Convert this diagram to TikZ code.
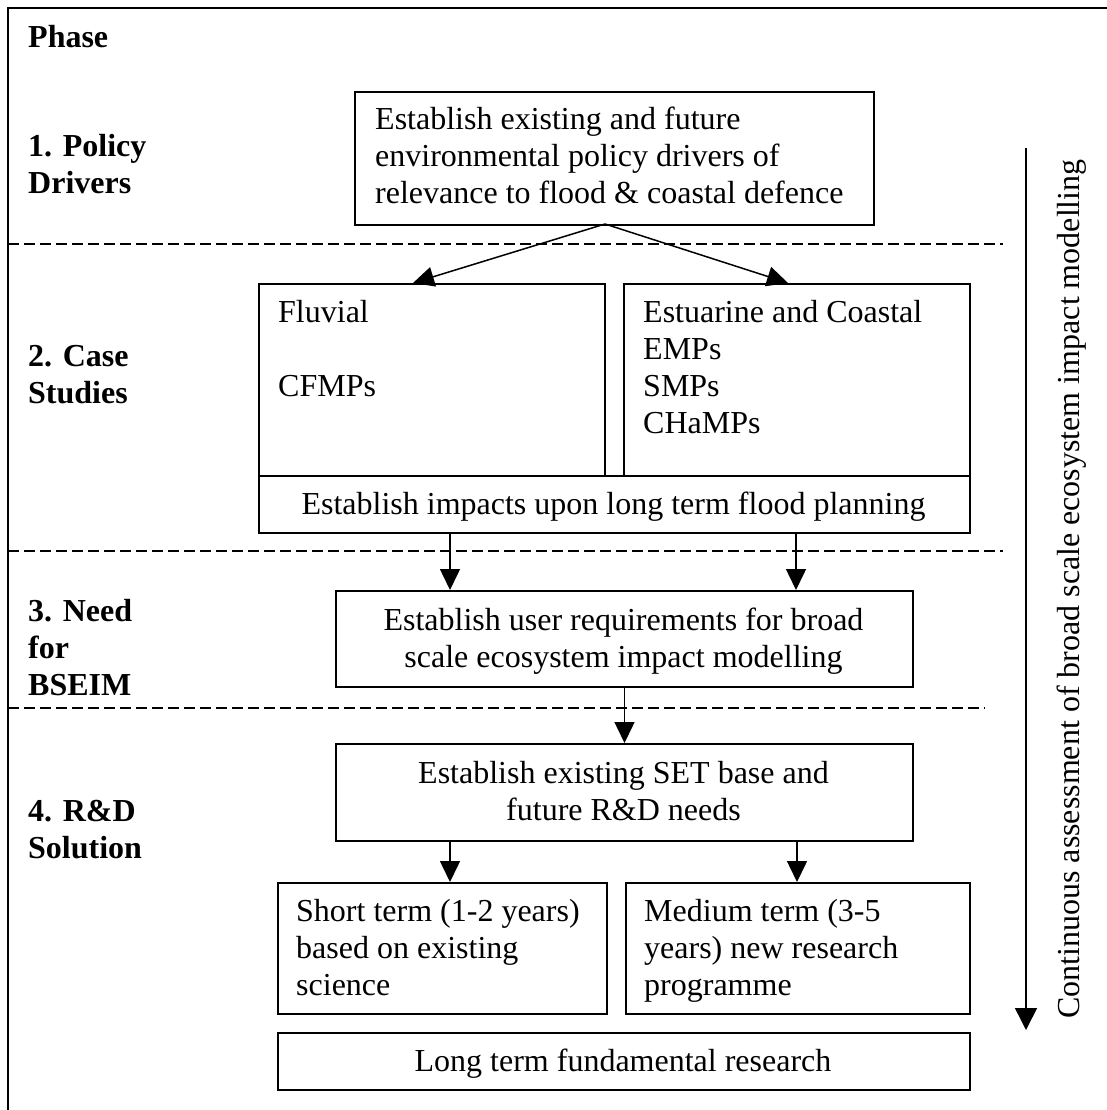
\documentclass[tikz,border=0pt]{standalone}
\usepackage{fontspec}
\setmainfont{Liberation Serif}
\usetikzlibrary{arrows.meta}
\newcommand{\txtlines}[2]{\begin{tabular}[t]{@{}#1@{}}#2\end{tabular}}
\begin{document}
\begin{tikzpicture}[x=1pt,y=-1pt,
  every node/.style={font=\fontsize{32}{37}\selectfont},
  box/.style={draw, line width=2pt, inner sep=0pt, anchor=north west},
  txt/.style={inner sep=0pt, anchor=base west},
  ctxt/.style={inner sep=0pt, anchor=base},
  lbl/.style={inner sep=0pt, anchor=base west, font=\bfseries\fontsize{32}{37}\selectfont},
  sep/.style={dash pattern=on 11pt off 5pt, line width=1.5pt},
  link/.style={line width=1.5pt, -{Triangle[length=21pt,width=20pt]}}]
\useasboundingbox (0,0) rectangle (1107,1110);
% outer frame (only its top and left sides fall on the page)
\draw[line width=2pt] (8,1140) -- (8,8) -- (1140,8);

% phase labels
\node[lbl] (phase) at (28,48) {Phase};
\node[lbl] (ph1) at (28,157) {\txtlines{l}{1. Policy\\Drivers}};
\node[lbl] (ph2) at (28,366) {\txtlines{l}{2. Case\\Studies}};
\node[lbl] (ph3) at (28,621) {\txtlines{l}{3. Need\\for\\BSEIM}};
\node[lbl] (ph4) at (28,821) {\txtlines{l}{4. R\&D\\Solution}};

% phase separators
\coordinate (s1a) at (8,244);  \coordinate (s1b) at (1003,244);
\coordinate (s2a) at (8,551);  \coordinate (s2b) at (1003,551);
\coordinate (s3a) at (8,708);  \coordinate (s3b) at (985,708);
\draw[sep] (s1a) -- (s1b);
\draw[sep] (s2a) -- (s2b);
\draw[sep] (s3a) -- (s3b);

% 1. policy drivers
\node[box, minimum width=519pt, minimum height=133pt] (policy) at (354,91) {};
\node[txt] (policyt) at (375,130) {\txtlines{l}{Establish existing and future\\environmental policy drivers of\\relevance to flood \& coastal defence}};

% 2. case studies
\node[box, minimum width=346pt, minimum height=192pt] (fluvial) at (258,283) {};
\node[txt] (fluvialt) at (278,322) {\txtlines{l}{Fluvial\\ \\CFMPs}};
\node[box, minimum width=346pt, minimum height=192pt] (coastal) at (623,283) {};
\node[txt] (coastalt) at (643,322) {\txtlines{l}{Estuarine and Coastal\\EMPs\\SMPs\\CHaMPs}};
\node[box, minimum width=711pt, minimum height=57pt] (impacts) at (258,475) {};
\node[ctxt] (impactst) at (613.5,514) {Establish impacts upon long term flood planning};

% 3. need for BSEIM
\node[box, minimum width=577pt, minimum height=96pt] (needs) at (335,590) {};
\node[ctxt] (needst) at (623.5,630) {\txtlines{c}{Establish user requirements for broad\\scale ecosystem impact modelling}};

% 4. R&D solution
\node[box, minimum width=577pt, minimum height=97pt] (setbase) at (335,743) {};
\node[ctxt] (setbaset) at (623.5,783) {\txtlines{c}{Establish existing SET base and\\future R\&D needs}};
\node[box, minimum width=329pt, minimum height=131pt] (short) at (277,882) {};
\node[txt] (shortt) at (296,921) {\txtlines{l}{Short term (1-2 years)\\based on existing\\science}};
\node[box, minimum width=344pt, minimum height=131pt] (medium) at (625,882) {};
\node[txt] (mediumt) at (644,921) {\txtlines{l}{Medium term (3-5\\years) new research\\programme}};
\node[box, minimum width=692pt, minimum height=57pt] (longterm) at (277,1032) {};
\node[ctxt] (longtermt) at (623,1071) {Long term fundamental research};

% connectors
\coordinate (pfork) at (605,224);
\coordinate (flin) at (413,283);
\coordinate (coin) at (788,283);
\draw[link] (pfork) -- (flin);
\draw[link] (pfork) -- (coin);
\coordinate (im1) at (450,532);  \coordinate (ne1) at (450,590);
\coordinate (im2) at (796,532);  \coordinate (ne2) at (796,590);
\draw[link] (im1) -- (ne1);
\draw[link] (im2) -- (ne2);
\draw[link] (needs.south) -- (setbase.north);
\coordinate (se1) at (450,840);  \coordinate (sh1) at (450,882);
\coordinate (se2) at (797,840);  \coordinate (me1) at (797,882);
\draw[link] (se1) -- (sh1);
\draw[link] (se2) -- (me1);

% continuous assessment arrow
\coordinate (ctop) at (1026,148);
\coordinate (cbot) at (1026,1030);
\draw[link, -{Triangle[length=22pt,width=22pt]}] (ctop) -- (cbot);
\node[ctxt, rotate=90] (cnote) at (1079,589) {Continuous assessment of broad scale ecosystem impact modelling};
\end{tikzpicture}
\end{document}
